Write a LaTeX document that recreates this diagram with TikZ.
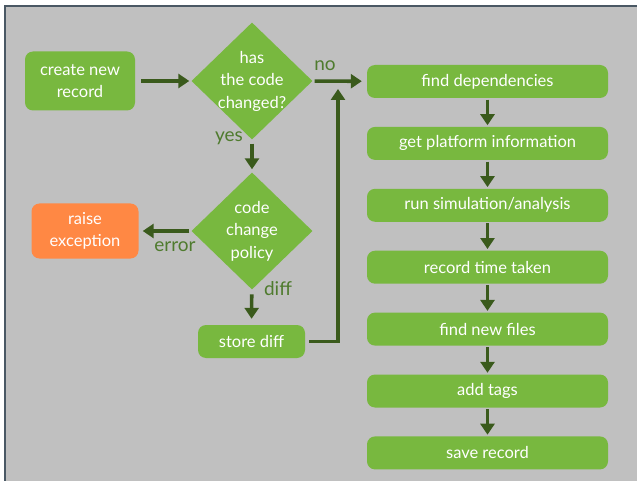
\documentclass[tikz,border=0pt]{standalone}
\usepackage{fontspec}
\setmainfont{Lato}
\usetikzlibrary{arrows.meta,positioning,shapes.geometric}
\definecolor{flowbg}{HTML}{C0C0C0}
\definecolor{flowframe}{HTML}{4A5864}
\definecolor{flowgreen}{HTML}{78B83F}
\definecolor{flowdark}{HTML}{3A5A1C}
\definecolor{flowlabel}{HTML}{4F7B2E}
\definecolor{floworange}{HTML}{FF8844}

\begin{document}
\begin{tikzpicture}[
        x=1pt, y=-1pt,
        node distance=28.5pt,
        box/.style={
          fill=flowgreen,
          rounded corners=8pt,
          minimum width=241pt,
          minimum height=33pt,
          align=center,
          text=white,
          font=\fontsize{16.5}{22.5}\selectfont
        },
        choice/.style={
          diamond,
          fill=flowgreen,
          inner sep=-14pt,
          minimum width=121pt,
          minimum height=117pt,
          align=center,
          text=white,
          font=\fontsize{16.5}{22.5}\selectfont
        },
        tag/.style={
          text=flowlabel,
          font=\fontsize{19}{22}\selectfont
        },
        arrow/.style={
          -{Triangle[length=11pt,width=14pt]},
          line width=3.6pt,
          flowdark
        }
      ]

      % frame and background
      \useasboundingbox (0,0) rectangle (637,481);
      \fill[white] (0,0) rectangle (637,481);
      \fill[flowbg] (5,6) rectangle (637,481);
      \draw[flowframe, line width=1.2pt] (5,481) -- (5,6) -- (637,6);

      % left part
      \node[box, minimum width=110pt, minimum height=59pt] (create) at (80,81) {create new\\record};
      \node[choice] (changed) at (252,81) {has\\the code\\changed?};
      \node[choice] (policy) at (252,231) {code\\change\\policy};
      \node[box, fill=floworange, minimum width=107pt, minimum height=55pt] (raise) at (85,231) {raise\\exception};
      \node[box, minimum width=107pt, minimum height=33pt] (store) at (251.5,341.5) {store diff};

      % right column
      \node[box] (deps) at (487.5,81.5) {find dependencies};
      \node[box, below=of deps] (platform) {get platform information};
      \node[box, below=of platform] (simulate) {run simulation/analysis};
      \node[box, below=of simulate] (timing) {record time taken};
      \node[box, below=of timing] (newfiles) {find new files};
      \node[box, below=of newfiles] (tags) {add tags};
      \node[box, below=of tags] (save) {save record};

      \coordinate (merge) at (338,89);

      % labels
      \node[tag] (nolab) at (325,66) {no};
      \node[tag] (yeslab) at (229,138) {yes};
      \node[tag] (errlab) at (175,247) {error};
      \node[tag] (difflab) at (278,289) {diff};

      % connectors
      \draw[arrow, shorten <=6pt, shorten >=2pt] (create) -- (changed);
      \draw[arrow, shorten <=2pt, shorten >=5pt] (changed) -- (deps);
      \draw[arrow, shorten <=4pt, shorten >=3pt] (changed) -- (policy);
      \draw[arrow, shorten <=2pt, shorten >=4pt] (policy) -- (raise);
      \draw[arrow, shorten <=5pt, shorten >=6pt] (policy) -- (store);
      \draw[arrow, shorten <=4pt] (store.east) -| (merge);
      \foreach \from/\to in {deps/platform, platform/simulate, simulate/timing,
                             timing/newfiles, newfiles/tags, tags/save}
        \draw[arrow, shorten <=1.5pt, shorten >=1.5pt] (\from) -- (\to);

      \end{tikzpicture}
\end{document}
